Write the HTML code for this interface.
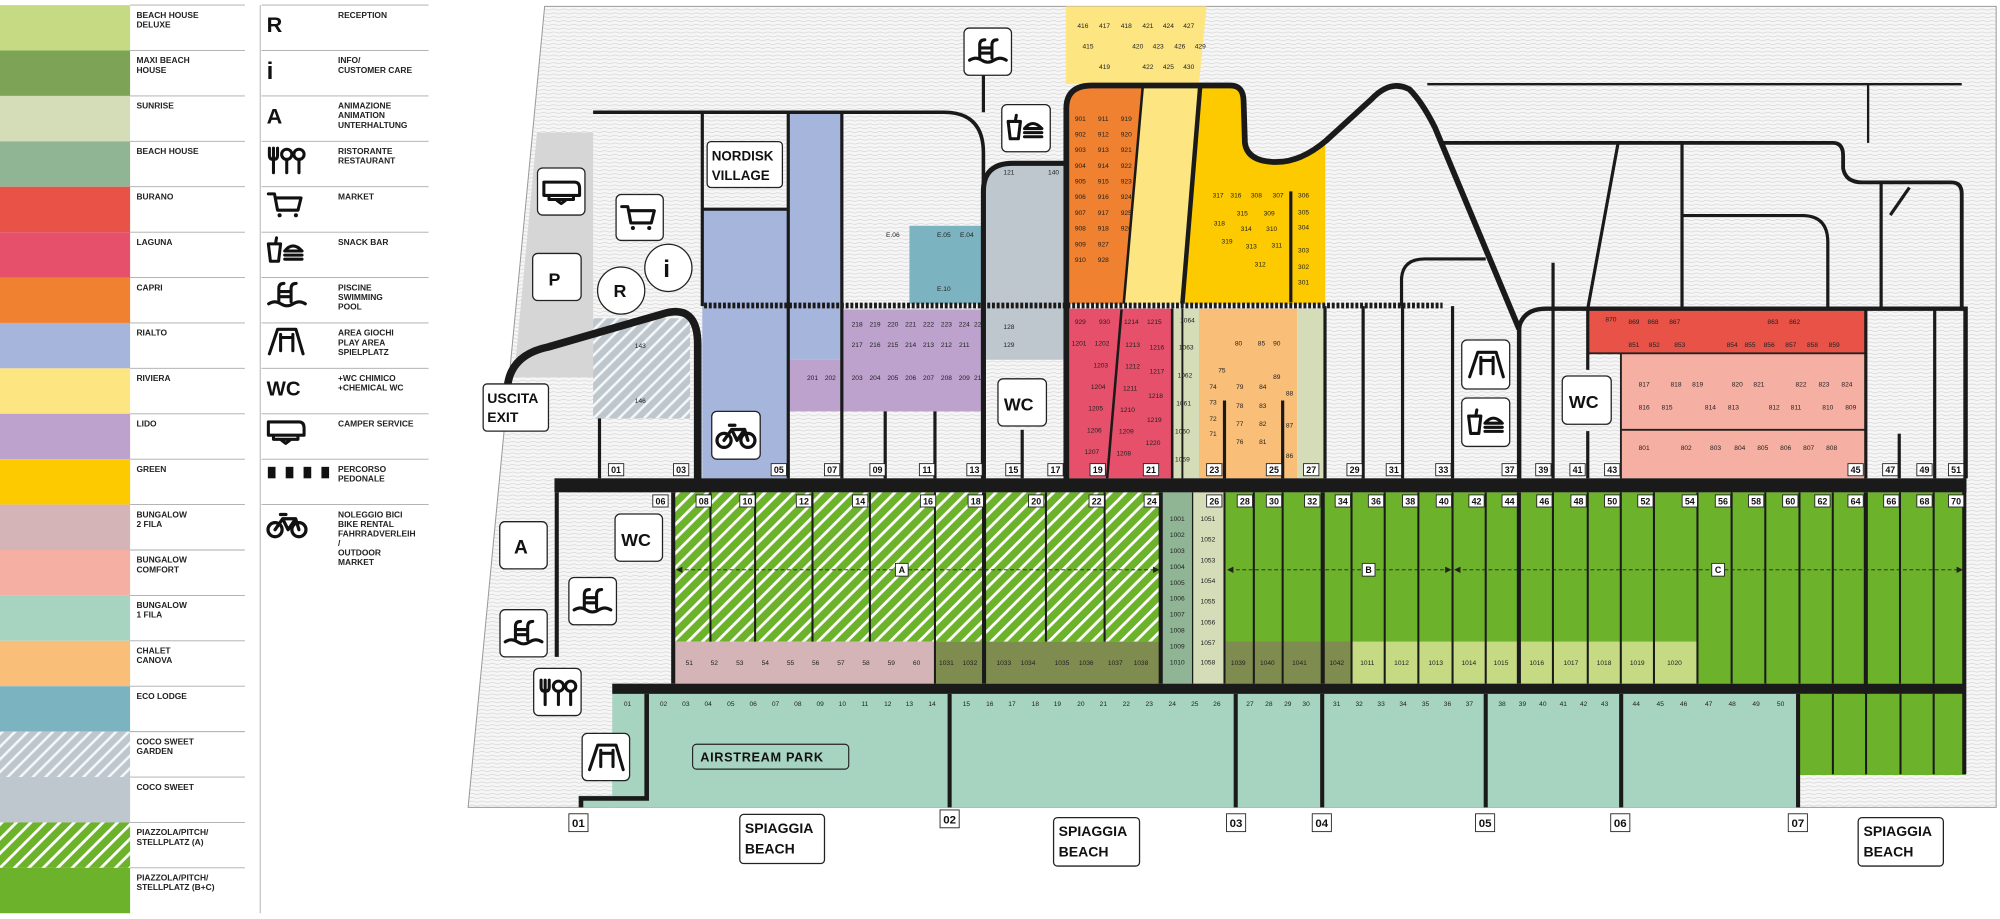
<!DOCTYPE html>
<html><head><meta charset="utf-8">
<style>
html,body{margin:0;padding:0;background:#fff;width:2000px;height:919px;overflow:hidden}
svg{display:block}
.lg{font:bold 6.6px "Liberation Sans",sans-serif;fill:#222}
.n rect{fill:#fff;stroke:#222;stroke-width:.7}
.n text{font:bold 7px "Liberation Sans",sans-serif;fill:#111;text-anchor:middle}
.s{font:5.2px "Liberation Sans",sans-serif;fill:#222;text-anchor:middle}
.box{fill:#fff;stroke:#222;stroke-width:1}
.ic{fill:none;stroke:#111;stroke-width:3;stroke-linecap:round;stroke-linejoin:round}
.big{font:bold 12px "Liberation Sans",sans-serif;fill:#111}
.rd{fill:none;stroke:#1a1a1a;stroke-linecap:butt}
</style></head><body>
<svg width="2000" height="919" viewBox="0 0 1568 720.5" preserveAspectRatio="none" xmlns="http://www.w3.org/2000/svg">
<defs>
<pattern id="wave" width="8" height="3" patternUnits="userSpaceOnUse"><rect width="8" height="3" fill="#f6f6f6"/><path d="M0,1.5 Q2,0.6 4,1.5 T8,1.5" fill="none" stroke="#cfcfcf" stroke-width=".45"/></pattern>
<pattern id="hg" width="8" height="8" patternUnits="userSpaceOnUse" patternTransform="rotate(45)"><rect width="8" height="8" fill="#6db22b"/><rect width="2.2" height="8" fill="#fff"/></pattern>
<pattern id="hc" width="7" height="7" patternUnits="userSpaceOnUse" patternTransform="rotate(45)"><rect width="7" height="7" fill="#bdc7cd"/><rect width="2" height="7" fill="#f4f6f7"/></pattern>
<symbol id="pool" viewBox="0 0 40 30"><path class="ic" d="M2,24 Q8,20 14,24 Q20,28 26,24 Q32,20 38,24 M12,22 V9 Q12,4 17,4 M24,22 V9 Q24,4 29,4 M12,12 H24 M12,17 H24"/></symbol>
<symbol id="snack" viewBox="0 0 40 30"><path class="ic" d="M3,9 H15 L13,26 H5 Z M10,9 L11,3 M19,16 Q27,6 36,16 Z M19,20 H36 M19,24 H36"/></symbol>
<symbol id="cart" viewBox="0 0 40 30"><path class="ic" d="M3,5 H9 L12,21 H32 L35,9 H10"/><circle cx="14" cy="26" r="2" fill="#111"/><circle cx="30" cy="26" r="2" fill="#111"/></symbol>
<symbol id="camp" viewBox="0 0 40 30"><path class="ic" d="M3,6 H33 Q38,6 38,12 V19 H3 Z M8,19 V23 H32 V19 M16,24 L20,27 L24,24"/></symbol>
<symbol id="play" viewBox="0 0 40 30"><path class="ic" d="M4,28 L12,4 H30 L37,28 M15,9 V25 M27,9 V25 M15,12 H27"/></symbol>
<symbol id="bike" viewBox="0 0 40 30"><circle class="ic" cx="9" cy="20" r="6.5"/><circle class="ic" cx="31" cy="20" r="6.5"/><path class="ic" d="M9,20 L16,10 H28 L31,20 M16,10 L21,20 L28,10 M14,6 H19"/></symbol>
<symbol id="rest" viewBox="0 0 40 30"><path class="ic" d="M4,4 V11 Q4,15 8,15 Q12,15 12,11 V4 M8,4 V28"/><circle class="ic" cx="21" cy="10" r="5"/><path class="ic" d="M21,15 V28"/><circle class="ic" cx="33" cy="10" r="5"/><path class="ic" d="M33,15 V28"/></symbol>
</defs>

<!-- LEGEND -->
<g>
<rect x="0" y="4" width="102" height="35.6" fill="#c6da84"/>
<rect x="0" y="39.6" width="102" height="35.6" fill="#7da456"/>
<rect x="0" y="75.2" width="102" height="35.6" fill="#d4dcb8"/>
<rect x="0" y="110.8" width="102" height="35.6" fill="#8fb595"/>
<rect x="0" y="146.4" width="102" height="35.6" fill="#e85247"/>
<rect x="0" y="182" width="102" height="35.6" fill="#e7506b"/>
<rect x="0" y="217.6" width="102" height="35.6" fill="#ef8130"/>
<rect x="0" y="253.2" width="102" height="35.6" fill="#a5b5dc"/>
<rect x="0" y="288.8" width="102" height="35.6" fill="#fde582"/>
<rect x="0" y="324.4" width="102" height="35.6" fill="#bca2cd"/>
<rect x="0" y="360" width="102" height="35.6" fill="#fdca00"/>
<rect x="0" y="395.6" width="102" height="35.6" fill="#d5b4b8"/>
<rect x="0" y="431.2" width="102" height="35.6" fill="#f6afa3"/>
<rect x="0" y="466.8" width="102" height="35.6" fill="#a7d4c0"/>
<rect x="0" y="502.4" width="102" height="35.6" fill="#f9bf79"/>
<rect x="0" y="538" width="102" height="35.6" fill="#7cb3c0"/>
<rect x="0" y="573.6" width="102" height="35.6" fill="url(#hc)"/>
<rect x="0" y="609.2" width="102" height="35.6" fill="#bdc7cd"/>
<rect x="0" y="644.8" width="102" height="35.6" fill="url(#hg)"/>
<rect x="0" y="680.4" width="102" height="35.6" fill="#6db22b"/>
<g stroke="#aaa" stroke-width=".7">
<line x1="102" y1="4" x2="192" y2="4"/><line x1="102" y1="39.6" x2="192" y2="39.6"/><line x1="102" y1="75.2" x2="192" y2="75.2"/><line x1="102" y1="110.8" x2="192" y2="110.8"/><line x1="102" y1="146.4" x2="192" y2="146.4"/><line x1="102" y1="182" x2="192" y2="182"/><line x1="102" y1="217.6" x2="192" y2="217.6"/><line x1="102" y1="253.2" x2="192" y2="253.2"/><line x1="102" y1="288.8" x2="192" y2="288.8"/><line x1="102" y1="324.4" x2="192" y2="324.4"/><line x1="102" y1="360" x2="192" y2="360"/><line x1="102" y1="395.6" x2="192" y2="395.6"/><line x1="102" y1="431.2" x2="192" y2="431.2"/><line x1="102" y1="466.8" x2="192" y2="466.8"/><line x1="102" y1="502.4" x2="192" y2="502.4"/><line x1="102" y1="538" x2="192" y2="538"/><line x1="102" y1="573.6" x2="192" y2="573.6"/><line x1="102" y1="609.2" x2="192" y2="609.2"/><line x1="102" y1="644.8" x2="192" y2="644.8"/><line x1="102" y1="680.4" x2="192" y2="680.4"/>
<line x1="204" y1="4" x2="204" y2="716"/>
<line x1="205" y1="4" x2="336" y2="4"/><line x1="205" y1="39.6" x2="336" y2="39.6"/><line x1="205" y1="75.2" x2="336" y2="75.2"/><line x1="205" y1="110.8" x2="336" y2="110.8"/><line x1="205" y1="146.4" x2="336" y2="146.4"/><line x1="205" y1="182" x2="336" y2="182"/><line x1="205" y1="217.6" x2="336" y2="217.6"/><line x1="205" y1="253.2" x2="336" y2="253.2"/><line x1="205" y1="288.8" x2="336" y2="288.8"/><line x1="205" y1="324.4" x2="336" y2="324.4"/><line x1="205" y1="360" x2="336" y2="360"/><line x1="205" y1="395.6" x2="336" y2="395.6"/>
</g>
<g class="lg">
<text x="107" y="14">BEACH HOUSE</text><text x="107" y="21.5">DELUXE</text>
<text x="107" y="49.6">MAXI BEACH</text><text x="107" y="57.1">HOUSE</text>
<text x="107" y="85.2">SUNRISE</text>
<text x="107" y="120.8">BEACH HOUSE</text>
<text x="107" y="156.4">BURANO</text>
<text x="107" y="192">LAGUNA</text>
<text x="107" y="227.6">CAPRI</text>
<text x="107" y="263.2">RIALTO</text>
<text x="107" y="298.8">RIVIERA</text>
<text x="107" y="334.4">LIDO</text>
<text x="107" y="370">GREEN</text>
<text x="107" y="405.6">BUNGALOW</text><text x="107" y="413.1">2 FILA</text>
<text x="107" y="441.2">BUNGALOW</text><text x="107" y="448.7">COMFORT</text>
<text x="107" y="476.8">BUNGALOW</text><text x="107" y="484.3">1 FILA</text>
<text x="107" y="512.4">CHALET</text><text x="107" y="519.9">CANOVA</text>
<text x="107" y="548">ECO LODGE</text>
<text x="107" y="583.6">COCO SWEET</text><text x="107" y="591.1">GARDEN</text>
<text x="107" y="619.2">COCO SWEET</text>
<text x="107" y="654.8">PIAZZOLA/PITCH/</text><text x="107" y="662.3">STELLPLATZ (A)</text>
<text x="107" y="690.4">PIAZZOLA/PITCH/</text><text x="107" y="697.9">STELLPLATZ (B+C)</text>
<text x="265" y="14">RECEPTION</text>
<text x="265" y="49.6">INFO/</text><text x="265" y="57.1">CUSTOMER CARE</text>
<text x="265" y="85.2">ANIMAZIONE</text><text x="265" y="92.7">ANIMATION</text><text x="265" y="100.2">UNTERHALTUNG</text>
<text x="265" y="120.8">RISTORANTE</text><text x="265" y="128.3">RESTAURANT</text>
<text x="265" y="156.4">MARKET</text>
<text x="265" y="192">SNACK BAR</text>
<text x="265" y="227.6">PISCINE</text><text x="265" y="235.1">SWIMMING</text><text x="265" y="242.6">POOL</text>
<text x="265" y="263.2">AREA GIOCHI</text><text x="265" y="270.7">PLAY AREA</text><text x="265" y="278.2">SPIELPLATZ</text>
<text x="265" y="298.8">+WC CHIMICO</text><text x="265" y="306.3">+CHEMICAL WC</text>
<text x="265" y="334.4">CAMPER SERVICE</text>
<text x="265" y="370">PERCORSO</text><text x="265" y="377.5">PEDONALE</text>
<text x="265" y="405.6">NOLEGGIO BICI</text><text x="265" y="413.1">BIKE RENTAL</text><text x="265" y="420.6">FAHRRADVERLEIH</text><text x="265" y="428.1">/</text><text x="265" y="435.6">OUTDOOR</text><text x="265" y="443.1">MARKET</text>
</g>
<text x="209" y="25" class="big" style="font-size:17px">R</text>
<text x="209" y="62" class="big" style="font-size:19px">i</text>
<text x="209" y="97" class="big" style="font-size:17px">A</text>
<use href="#rest" x="208" y="113" width="32" height="24"/>
<use href="#cart" x="208" y="148" width="32" height="24"/>
<use href="#snack" x="208" y="184" width="32" height="24"/>
<use href="#pool" x="208" y="219" width="34" height="24"/>
<use href="#play" x="208" y="255" width="32" height="24"/>
<text x="209" y="310" class="big" style="font-size:16px">WC</text>
<use href="#camp" x="208" y="326" width="32" height="24"/>
<g fill="#111"><rect x="210" y="366" width="6" height="9"/><rect x="224" y="366" width="6" height="9"/><rect x="238" y="366" width="6" height="9"/><rect x="252" y="366" width="6" height="9"/></g>
<use href="#bike" x="208" y="398" width="34" height="26"/>
</g>

<!-- MAP FRAME -->
<polygon points="427,5 1565,5 1565,633 367,633" fill="url(#wave)" stroke="#9a9a9a" stroke-width=".8"/>
<polygon points="421,104 465,104 465,296 403,296" fill="#d6d6d6"/>

<!-- FILLS upper -->
<polygon points="835.6,5 946,5 940,66 835.6,66" fill="#fde582"/>
<path d="M835.6,238 L835.6,85 Q836,67 856,67 L896,67 L881,238 Z" fill="#ef8130"/>
<polygon points="896,67 941,67 927,238 881,238" fill="#fde582"/>
<path d="M941,67 L965,67 Q975,67 975,80 L976,112 Q978,127 1001,127 Q1020,127 1039,108 L1039,238 L927,238 Z" fill="#fdca00"/>
<rect x="835.6" y="242" width="83.4" height="133" fill="#e7506b"/>
<rect x="919" y="242" width="21" height="133" fill="#d4dcb8"/>
<rect x="940" y="242" width="77" height="133" fill="#f9bf79"/>
<rect x="1017" y="242" width="22" height="133" fill="#d4dcb8"/>
<path d="M773,282 L773,150 Q773,129 794,129 L835.6,129 L835.6,282 Z" fill="#bdc7cd"/>
<rect x="713" y="177" width="58" height="61" fill="#7cb3c0"/>
<rect x="550.6" y="164" width="67.4" height="211" fill="#a5b5dc"/>
<rect x="618" y="87.8" width="42" height="194.2" fill="#a5b5dc"/>
<rect x="618" y="282" width="42" height="40.5" fill="#bca2cd"/>
<rect x="660" y="242.6" width="111" height="80" fill="#bca2cd"/>
<rect x="465" y="249.5" width="76" height="78.5" fill="url(#hc)"/>
<rect x="1244.8" y="242" width="218" height="35" fill="#e85247"/>
<rect x="1270.8" y="277" width="192" height="98" fill="#f6afa3"/>
<line x1="1270.8" y1="277" x2="1462.8" y2="277" stroke="#222" stroke-width="1.5"/>
<line x1="1270.8" y1="337" x2="1462.8" y2="337" stroke="#222" stroke-width="1.5"/>
<line x1="1244.8" y1="277" x2="1270.8" y2="277" stroke="#222" stroke-width="1.5"/>
<line x1="1270.8" y1="277" x2="1270.8" y2="375" stroke="#222" stroke-width="1.5"/>

<!-- FILLS plots -->
<rect x="528" y="386" width="382" height="117" fill="url(#hg)"/>
<rect x="528" y="503" width="205" height="33" fill="#d5b4b8"/>
<rect x="733" y="503" width="177" height="33" fill="#7f8c4f"/>
<rect x="910" y="386" width="25" height="150" fill="#8fb595"/>
<rect x="935" y="386" width="25" height="150" fill="#d4dcb8"/>
<rect x="960" y="386" width="581" height="150" fill="#6db22b"/>
<rect x="960" y="503" width="99.6" height="33" fill="#7f8c4f"/>
<rect x="1059.6" y="503" width="271.2" height="33" fill="#c6da84"/>
<rect x="480" y="544" width="930" height="89" fill="#a7d4c0"/>
<rect x="453.7" y="623.7" width="30" height="9.3" fill="#a7d4c0"/>
<rect x="1410" y="544" width="131" height="63.6" fill="#6db22b"/>

<!-- plot dividers -->
<g stroke="#1a1a1a" stroke-width="1.6">
<line x1="557" y1="386" x2="557" y2="503"/><line x1="592" y1="386" x2="592" y2="503"/><line x1="637" y1="386" x2="637" y2="503"/><line x1="682" y1="386" x2="682" y2="503"/><line x1="733" y1="386" x2="733" y2="536"/><line x1="820" y1="386" x2="820" y2="503"/><line x1="866" y1="386" x2="866" y2="503"/>
<line x1="983" y1="386" x2="983" y2="536"/><line x1="1005.6" y1="386" x2="1005.6" y2="536"/><line x1="1059.6" y1="386" x2="1059.6" y2="536"/><line x1="1085.6" y1="386" x2="1085.6" y2="536"/><line x1="1112" y1="386" x2="1112" y2="536"/><line x1="1138.8" y1="386" x2="1138.8" y2="536"/><line x1="1164.8" y1="386" x2="1164.8" y2="536"/><line x1="1217.5" y1="386" x2="1217.5" y2="536"/><line x1="1244.8" y1="386" x2="1244.8" y2="536"/><line x1="1270.7" y1="386" x2="1270.7" y2="536"/><line x1="1296.7" y1="386" x2="1296.7" y2="536"/><line x1="1330.8" y1="386" x2="1330.8" y2="536"/><line x1="1357.6" y1="386" x2="1357.6" y2="536"/><line x1="1384" y1="386" x2="1384" y2="536"/><line x1="1410.8" y1="386" x2="1410.8" y2="536"/><line x1="1436.9" y1="386" x2="1436.9" y2="536"/><line x1="1489.6" y1="386" x2="1489.6" y2="536"/><line x1="1516" y1="386" x2="1516" y2="536"/>
<line x1="1437" y1="544" x2="1437" y2="607"/><line x1="1463" y1="544" x2="1463" y2="607"/><line x1="1490" y1="544" x2="1490" y2="607"/><line x1="1516" y1="544" x2="1516" y2="607"/>
<line x1="935" y1="386" x2="935" y2="536" stroke-width="1"/><line x1="960" y1="386" x2="960" y2="536"/>
</g>
<g stroke="#1a1a1a" stroke-width="3.2">
<line x1="771.5" y1="386" x2="771.5" y2="536"/><line x1="910" y1="386" x2="910" y2="536"/><line x1="1037" y1="386" x2="1037" y2="536"/><line x1="1190.8" y1="386" x2="1190.8" y2="536"/><line x1="1462.8" y1="386" x2="1462.8" y2="544"/><line x1="1540" y1="375" x2="1540" y2="607"/>
<line x1="744.5" y1="544" x2="744.5" y2="633"/><line x1="968.8" y1="544" x2="968.8" y2="633"/><line x1="1036.6" y1="544" x2="1036.6" y2="633"/><line x1="1164.8" y1="544" x2="1164.8" y2="633"/><line x1="1271" y1="544" x2="1271" y2="633"/><line x1="1409.7" y1="544" x2="1409.7" y2="633"/>
<line x1="527.8" y1="386" x2="527.8" y2="536"/>
<line x1="436.5" y1="386" x2="436.5" y2="515"/>
</g>
<path class="rd" d="M507,544 L507,626 L455.5,626 L455.5,633" stroke-width="3.6"/>
<rect x="434.7" y="375" width="1107" height="11" fill="#1a1a1a"/>
<rect x="480" y="536" width="1061" height="8" fill="#1a1a1a"/>
<!-- dashed arrows -->
<g stroke="#222" stroke-width=".7" stroke-dasharray="3 2"><line x1="532" y1="446.7" x2="906" y2="446.7"/><line x1="964" y1="446.7" x2="1136" y2="446.7"/><line x1="1142" y1="446.7" x2="1537" y2="446.7"/></g>
<g fill="#222"><path d="M530,446.7 l5,-2.5 v5z"/><path d="M909,446.7 l-5,-2.5 v5z"/><path d="M962,446.7 l5,-2.5 v5z"/><path d="M1138,446.7 l-5,-2.5 v5z"/><path d="M1140,446.7 l5,-2.5 v5z"/><path d="M1539,446.7 l-5,-2.5 v5z"/></g>
<g class="n"><rect x="702" y="441.7" width="10" height="10"/><text x="707" y="449.3">A</text><rect x="1068" y="441.7" width="10" height="10"/><text x="1073" y="449.3">B</text><rect x="1342" y="441.7" width="10" height="10"/><text x="1347" y="449.3">C</text></g>

<!-- ROADS upper -->
<path class="rd" d="M398,302 Q401,278 430,272 L520,246 Q547,238 547,270 L547,378" stroke-width="6"/>
<path class="rd" d="M465,88 L740,88 Q771,88 771,120 L771,375" stroke-width="2.8"/>
<path class="rd" d="M771,375 L771,150 Q771,128 794,128 L836,128" stroke-width="4"/>
<path class="rd" d="M836,378 L836,85 Q836,67 856,67 L941,67 L965,67 Q975,67 975,80 L976,112 Q978,127 1001,127 Q1020,127 1040,110 L1075,78 Q1090,62 1105,70 Q1115,80 1125,100 L1191,258" stroke-width="4.5"/>
<path class="rd" d="M1191,375 L1191,256 Q1195,242 1212,242 L1541,242 L1541,375" stroke-width="3.5"/>
<path class="rd" d="M1131,112 L1437,112 Q1445,112 1445,122 L1445,132 Q1447,143 1460,143 L1530,143 Q1538,143 1538,152 L1538,242" stroke-width="3"/>
<g class="rd" stroke-width="2.5">
<path d="M1268.6,112 L1244.8,242 L1244.8,290"/><path d="M1244.8,338 L1244.8,375"/>
<path d="M1318.7,112 L1318.7,242"/><path d="M1318.7,169 L1413,169 Q1433,169 1433,190 L1433,242"/>
<path d="M1474.8,143 L1474.8,242"/><path d="M1482,168.6 L1497,147"/>
<path d="M1098.8,240 L1098.8,218 Q1100,203 1117,203 L1164.8,203"/>
<path d="M1217.6,206 L1217.6,375"/><path d="M1138.8,240 L1138.8,375"/><path d="M1068.7,240 L1068.7,375"/><path d="M1099.6,240 L1099.6,375"/>
<path d="M1012,150 L1012,237"/><path d="M1038.8,240 L1038.8,375"/><path d="M960,314 L960,375"/><path d="M1005.6,314 L1005.6,375"/>
<path d="M1462.8,242 L1462.8,375"/><path d="M1489,340 L1489,375"/><path d="M1516.8,242 L1516.8,375"/>
<path d="M470,328 L470,375"/><path d="M694,322.5 L694,375"/><path d="M733,322.5 L733,375"/><path d="M660,87.8 L660,375"/><path d="M618,87.8 L618,375"/><path d="M801.4,337 L801.4,375"/><path d="M771,22 L771,88"/>
<path d="M550.6,87.8 L550.6,240"/><path d="M550.6,164 L618,164"/><path d="M927,242 L927,375" stroke-width="1.5"/>
<path d="M919,242 L919,375" stroke-width="2"/><path d="M879.3,242.6 L868,375" stroke-width="2"/>
<path d="M896,67 L881,238" stroke-width="2"/><path d="M941,67 L927,238" stroke-width="3.5"/>
</g>
<path class="rd" d="M1119,66 L1538,66 M1464.6,66 L1464.6,112" stroke-width="1.8"/>
<line x1="552" y1="239.5" x2="1131" y2="239.5" stroke="#1a1a1a" stroke-width="4.5" stroke-dasharray="2.3 1.4"/>

<!-- ICON BOXES -->
<g>
<rect class="box" x="421.4" y="131.7" width="37.2" height="36.9" rx="4"/><use href="#camp" x="424" y="138" width="32" height="24"/>
<rect class="box" x="417.6" y="198.7" width="38" height="36.9" rx="4"/><text x="430" y="224" class="big" style="font-size:14px">P</text>
<rect class="box" x="483" y="152.5" width="37" height="36" rx="4"/><use href="#cart" x="485" y="158" width="32" height="24"/>
<circle class="box" cx="487" cy="227.8" r="18.5"/><text x="481" y="233" class="big" style="font-size:14px">R</text>
<circle class="box" cx="524" cy="210" r="18.5"/><text x="520" y="217" class="big" style="font-size:19px">i</text>
<rect class="box" x="378.8" y="301" width="51.2" height="37" rx="3"/><text x="382" y="316" class="big" style="font-size:11px">USCITA</text><text x="382" y="331" class="big" style="font-size:11px">EXIT</text>
<rect class="box" x="391.8" y="409" width="37.2" height="37" rx="4"/><text x="403" y="434" class="big" style="font-size:15px">A</text>
<rect class="box" x="392" y="478" width="37" height="37" rx="4"/><use href="#pool" x="394" y="484" width="33" height="24"/>
<rect class="box" x="418.4" y="524" width="37.2" height="37" rx="4"/><use href="#rest" x="421" y="530" width="32" height="24"/>
<rect class="box" x="456.4" y="575" width="37.2" height="37" rx="4"/><use href="#play" x="459" y="581" width="32" height="24"/>
<rect class="box" x="482.2" y="403" width="37.2" height="37" rx="4"/><text x="487" y="428" class="big" style="font-size:14px">WC</text>
<rect class="box" x="446" y="452.8" width="37.3" height="37" rx="4"/><use href="#pool" x="448" y="459" width="33" height="24"/>
<rect class="box" x="554.4" y="111" width="59" height="36" rx="3"/><text x="558" y="126" class="big" style="font-size:10.5px">NORDISK</text><text x="558" y="141" class="big" style="font-size:10.5px">VILLAGE</text>
<rect class="box" x="558" y="322.5" width="38" height="37.5" rx="4"/><use href="#bike" x="560" y="328" width="34" height="26"/>
<rect class="box" x="755.8" y="22" width="37.2" height="37" rx="4"/><use href="#pool" x="758" y="28" width="33" height="24"/>
<rect class="box" x="785.4" y="82" width="38" height="37" rx="4"/><use href="#snack" x="788" y="88" width="32" height="24"/>
<rect class="box" x="782.4" y="297" width="38" height="37" rx="4"/><text x="787" y="322" class="big" style="font-size:14px">WC</text>
<rect class="box" x="1146" y="266.6" width="37.6" height="38.4" rx="4"/><use href="#play" x="1149" y="273" width="32" height="24"/>
<rect class="box" x="1146" y="312" width="37.6" height="38" rx="4"/><use href="#snack" x="1149" y="319" width="32" height="24"/>
<rect class="box" x="1224.8" y="294.8" width="38.4" height="37.8" rx="4"/><text x="1230" y="320" class="big" style="font-size:14px">WC</text>
<rect x="543" y="583.5" width="122.4" height="19.5" rx="3" fill="none" stroke="#222" stroke-width=".9"/><text x="549" y="597" class="big" style="font-size:10px;letter-spacing:.5px">AIRSTREAM PARK</text>
<rect class="box" x="580" y="638.5" width="66.4" height="38.5" rx="3"/><text x="584" y="653" class="big" style="font-size:11px">SPIAGGIA</text><text x="584" y="669" class="big" style="font-size:11px">BEACH</text>
<rect class="box" x="826" y="641" width="67.4" height="38" rx="3"/><text x="830" y="655.5" class="big" style="font-size:11px">SPIAGGIA</text><text x="830" y="671.5" class="big" style="font-size:11px">BEACH</text>
<rect class="box" x="1456.8" y="641" width="66.8" height="38" rx="3"/><text x="1461" y="655.5" class="big" style="font-size:11px">SPIAGGIA</text><text x="1461" y="671.5" class="big" style="font-size:11px">BEACH</text>
</g>

<!-- beach numbers -->
<g class="n">
<rect x="446" y="638" width="15" height="14"/><text x="453.5" y="648.5" style="font-size:9px">01</text>
<rect x="737" y="635" width="15" height="14"/><text x="744.5" y="645.5" style="font-size:9px">02</text>
<rect x="961.6" y="638" width="15" height="14"/><text x="969" y="648.5" style="font-size:9px">03</text>
<rect x="1028.8" y="638" width="15" height="14"/><text x="1036.3" y="648.5" style="font-size:9px">04</text>
<rect x="1156.8" y="638" width="15" height="14"/><text x="1164.3" y="648.5" style="font-size:9px">05</text>
<rect x="1262.8" y="638" width="15" height="14"/><text x="1270.3" y="648.5" style="font-size:9px">06</text>
<rect x="1402" y="638" width="15" height="14"/><text x="1409.5" y="648.5" style="font-size:9px">07</text>
</g>

<!-- upper row labels -->
<g class="n">
<rect x="477" y="363.5" width="12" height="9.5"/><text x="483" y="371">01</text>
<rect x="528" y="363.5" width="12" height="9.5"/><text x="534" y="371">03</text>
<rect x="604.6" y="363.5" width="12" height="9.5"/><text x="610.6" y="371">05</text>
<rect x="646.4" y="363.5" width="12" height="9.5"/><text x="652.4" y="371">07</text>
<rect x="682" y="363.5" width="12" height="9.5"/><text x="688" y="371">09</text>
<rect x="720.8" y="363.5" width="12" height="9.5"/><text x="726.8" y="371">11</text>
<rect x="758" y="363.5" width="12" height="9.5"/><text x="764" y="371">13</text>
<rect x="788.5" y="363.5" width="12" height="9.5"/><text x="794.5" y="371">15</text>
<rect x="821.5" y="363.5" width="12" height="9.5"/><text x="827.5" y="371">17</text>
<rect x="854.6" y="363.5" width="12" height="9.5"/><text x="860.6" y="371">19</text>
<rect x="896.4" y="363.5" width="12" height="9.5"/><text x="902.4" y="371">21</text>
<rect x="946" y="363.5" width="12" height="9.5"/><text x="952" y="371">23</text>
<rect x="992.8" y="363.5" width="12" height="9.5"/><text x="998.8" y="371">25</text>
<rect x="1022" y="363.5" width="12" height="9.5"/><text x="1028" y="371">27</text>
<rect x="1056" y="363.5" width="12" height="9.5"/><text x="1062" y="371">29</text>
<rect x="1086.8" y="363.5" width="12" height="9.5"/><text x="1092.8" y="371">31</text>
<rect x="1125.6" y="363.5" width="12" height="9.5"/><text x="1131.6" y="371">33</text>
<rect x="1177.6" y="363.5" width="12" height="9.5"/><text x="1183.6" y="371">37</text>
<rect x="1204" y="363.5" width="12" height="9.5"/><text x="1210" y="371">39</text>
<rect x="1230.8" y="363.5" width="12" height="9.5"/><text x="1236.8" y="371">41</text>
<rect x="1258" y="363.5" width="12" height="9.5"/><text x="1264" y="371">43</text>
<rect x="1448.8" y="363.5" width="12" height="9.5"/><text x="1454.8" y="371">45</text>
<rect x="1476" y="363.5" width="12" height="9.5"/><text x="1482" y="371">47</text>
<rect x="1502.8" y="363.5" width="12" height="9.5"/><text x="1508.8" y="371">49</text>
<rect x="1527.6" y="363.5" width="12" height="9.5"/><text x="1533.6" y="371">51</text>
</g>
<!-- plot labels -->
<g class="n">
<rect x="511.8" y="388" width="12" height="9.5"/><text x="517.8" y="395.5">06</text>
<rect x="545.7" y="388" width="12" height="9.5"/><text x="551.7" y="395.5">08</text>
<rect x="580" y="388" width="12" height="9.5"/><text x="586" y="395.5">10</text>
<rect x="624.3" y="388" width="12" height="9.5"/><text x="630.3" y="395.5">12</text>
<rect x="668.4" y="388" width="12" height="9.5"/><text x="674.4" y="395.5">14</text>
<rect x="721.6" y="388" width="12" height="9.5"/><text x="727.6" y="395.5">16</text>
<rect x="759" y="388" width="12" height="9.5"/><text x="765" y="395.5">18</text>
<rect x="806.4" y="388" width="12" height="9.5"/><text x="812.4" y="395.5">20</text>
<rect x="853.8" y="388" width="12" height="9.5"/><text x="859.8" y="395.5">22</text>
<rect x="897" y="388" width="12" height="9.5"/><text x="903" y="395.5">24</text>
<rect x="946" y="388" width="12" height="9.5"/><text x="952" y="395.5">26</text>
<rect x="970" y="388" width="12" height="9.5"/><text x="976" y="395.5">28</text>
<rect x="992.8" y="388" width="12" height="9.5"/><text x="998.8" y="395.5">30</text>
<rect x="1022.8" y="388" width="12" height="9.5"/><text x="1028.8" y="395.5">32</text>
<rect x="1046.8" y="388" width="12" height="9.5"/><text x="1052.8" y="395.5">34</text>
<rect x="1072.8" y="388" width="12" height="9.5"/><text x="1078.8" y="395.5">36</text>
<rect x="1099.6" y="388" width="12" height="9.5"/><text x="1105.6" y="395.5">38</text>
<rect x="1126" y="388" width="12" height="9.5"/><text x="1132" y="395.5">40</text>
<rect x="1151.6" y="388" width="12" height="9.5"/><text x="1157.6" y="395.5">42</text>
<rect x="1177.6" y="388" width="12" height="9.5"/><text x="1183.6" y="395.5">44</text>
<rect x="1204.8" y="388" width="12" height="9.5"/><text x="1210.8" y="395.5">46</text>
<rect x="1231.6" y="388" width="12" height="9.5"/><text x="1237.6" y="395.5">48</text>
<rect x="1258" y="388" width="12" height="9.5"/><text x="1264" y="395.5">50</text>
<rect x="1284" y="388" width="12" height="9.5"/><text x="1290" y="395.5">52</text>
<rect x="1318.8" y="388" width="12" height="9.5"/><text x="1324.8" y="395.5">54</text>
<rect x="1344.8" y="388" width="12" height="9.5"/><text x="1350.8" y="395.5">56</text>
<rect x="1370.8" y="388" width="12" height="9.5"/><text x="1376.8" y="395.5">58</text>
<rect x="1397.6" y="388" width="12" height="9.5"/><text x="1403.6" y="395.5">60</text>
<rect x="1422.8" y="388" width="12" height="9.5"/><text x="1428.8" y="395.5">62</text>
<rect x="1448.8" y="388" width="12" height="9.5"/><text x="1454.8" y="395.5">64</text>
<rect x="1476.8" y="388" width="12" height="9.5"/><text x="1482.8" y="395.5">66</text>
<rect x="1502.8" y="388" width="12" height="9.5"/><text x="1508.8" y="395.5">68</text>
<rect x="1527.6" y="388" width="12" height="9.5"/><text x="1533.6" y="395.5">70</text>
</g>

<!-- small numbers -->
<g class="s">
<text x="540.4" y="521.5">51</text><text x="560" y="521.5">52</text><text x="580" y="521.5">53</text><text x="600" y="521.5">54</text><text x="619.8" y="521.5">55</text><text x="639.5" y="521.5">56</text><text x="659.3" y="521.5">57</text><text x="679" y="521.5">58</text><text x="698.8" y="521.5">59</text><text x="718.6" y="521.5">60</text>
<text x="742" y="521.5">1031</text><text x="760.4" y="521.5">1032</text><text x="787" y="521.5">1033</text><text x="806" y="521.5">1034</text><text x="832.6" y="521.5">1035</text><text x="851.6" y="521.5">1036</text><text x="874.4" y="521.5">1037</text><text x="894.5" y="521.5">1038</text>
<text x="970.8" y="521.5">1039</text><text x="993.6" y="521.5">1040</text><text x="1018.8" y="521.5">1041</text><text x="1048" y="521.5">1042</text><text x="1072" y="521.5">1011</text><text x="1098.8" y="521.5">1012</text><text x="1125.6" y="521.5">1013</text><text x="1151.6" y="521.5">1014</text><text x="1176.8" y="521.5">1015</text><text x="1204.8" y="521.5">1016</text><text x="1231.6" y="521.5">1017</text><text x="1257.6" y="521.5">1018</text><text x="1283.6" y="521.5">1019</text><text x="1312.8" y="521.5">1020</text>
<text x="492" y="553.5">01</text><text x="520.2" y="553.5">02</text><text x="537.7" y="553.5">03</text><text x="555.2" y="553.5">04</text><text x="573" y="553.5">05</text><text x="590.5" y="553.5">06</text><text x="608" y="553.5">07</text><text x="625.5" y="553.5">08</text><text x="643" y="553.5">09</text><text x="660.4" y="553.5">10</text><text x="678" y="553.5">11</text><text x="696" y="553.5">12</text><text x="713" y="553.5">13</text><text x="730.7" y="553.5">14</text>
<text x="757.7" y="553.5">15</text><text x="776" y="553.5">16</text><text x="793.4" y="553.5">17</text><text x="811.7" y="553.5">18</text><text x="829" y="553.5">19</text><text x="847.4" y="553.5">20</text><text x="865" y="553.5">21</text><text x="883" y="553.5">22</text><text x="901" y="553.5">23</text><text x="919" y="553.5">24</text><text x="936.7" y="553.5">25</text><text x="954" y="553.5">26</text>
<text x="980" y="553.5">27</text><text x="994.8" y="553.5">28</text><text x="1009.6" y="553.5">29</text><text x="1024" y="553.5">30</text><text x="1048" y="553.5">31</text><text x="1065.6" y="553.5">32</text><text x="1082.8" y="553.5">33</text><text x="1100" y="553.5">34</text><text x="1117.6" y="553.5">35</text><text x="1134.8" y="553.5">36</text><text x="1152" y="553.5">37</text>
<text x="1177.6" y="553.5">38</text><text x="1193.6" y="553.5">39</text><text x="1209.6" y="553.5">40</text><text x="1225.6" y="553.5">41</text><text x="1241.6" y="553.5">42</text><text x="1258" y="553.5">43</text><text x="1282.8" y="553.5">44</text><text x="1301.6" y="553.5">45</text><text x="1320" y="553.5">46</text><text x="1339.6" y="553.5">47</text><text x="1358" y="553.5">48</text><text x="1376.8" y="553.5">49</text><text x="1396" y="553.5">50</text>
<text x="923" y="408.5">1001</text><text x="923" y="421">1002</text><text x="923" y="433.5">1003</text><text x="923" y="446">1004</text><text x="923" y="458.5">1005</text><text x="923" y="471">1006</text><text x="923" y="483.5">1007</text><text x="923" y="496">1008</text><text x="923" y="508.5">1009</text><text x="923" y="521">1010</text>
<text x="947" y="408.5">1051</text><text x="947" y="424.7">1052</text><text x="947" y="440.9">1053</text><text x="947" y="457">1054</text><text x="947" y="473.3">1055</text><text x="947" y="489.5">1056</text><text x="947" y="505.7">1057</text><text x="947" y="521">1058</text>
<text x="847" y="94.7">901</text><text x="847" y="107">902</text><text x="847" y="119.3">903</text><text x="847" y="131.6">904</text><text x="847" y="143.9">905</text><text x="847" y="156.2">906</text><text x="847" y="168.5">907</text><text x="847" y="180.8">908</text><text x="847" y="193.1">909</text><text x="847" y="205.4">910</text>
<text x="865" y="94.7">911</text><text x="865" y="107">912</text><text x="865" y="119.3">913</text><text x="865" y="131.6">914</text><text x="865" y="143.9">915</text><text x="865" y="156.2">916</text><text x="865" y="168.5">917</text><text x="865" y="180.8">918</text><text x="865" y="193.1">927</text><text x="865" y="205.4">928</text>
<text x="883" y="94.7">919</text><text x="883" y="107">920</text><text x="883" y="119.3">921</text><text x="883" y="131.6">922</text><text x="883" y="143.9">923</text><text x="883" y="156.2">924</text><text x="883" y="168.5">925</text><text x="883" y="180.8">926</text>
<text x="847" y="254">929</text><text x="866" y="254">930</text><text x="887" y="254">1214</text><text x="905" y="254">1215</text>
<text x="846" y="271">1201</text><text x="864" y="271">1202</text><text x="888" y="272">1213</text><text x="907" y="274">1216</text>
<text x="863" y="288">1203</text><text x="888" y="289">1212</text><text x="907" y="293">1217</text>
<text x="861" y="305">1204</text><text x="886" y="306">1211</text><text x="906" y="312">1218</text>
<text x="859" y="322">1205</text><text x="884" y="323">1210</text><text x="905" y="331">1219</text>
<text x="858" y="339">1206</text><text x="883" y="340">1209</text><text x="904" y="349">1220</text>
<text x="856" y="356">1207</text><text x="881" y="357">1208</text>
<text x="931" y="253">1064</text><text x="930" y="274">1063</text><text x="929" y="296">1062</text><text x="928" y="318">1061</text><text x="927" y="340">1060</text><text x="927" y="362">1059</text>
<text x="971" y="271">80</text><text x="989" y="271">85</text><text x="1001" y="271">90</text><text x="958" y="292">75</text><text x="1001" y="297">89</text>
<text x="951" y="305">74</text><text x="972" y="305">79</text><text x="990" y="305">84</text><text x="1011" y="310">88</text>
<text x="951" y="317">73</text><text x="972" y="320">78</text><text x="990" y="320">83</text><text x="951" y="330">72</text><text x="972" y="334">77</text><text x="990" y="334">82</text><text x="1011" y="335">87</text>
<text x="951" y="342">71</text><text x="972" y="348">76</text><text x="990" y="348">81</text><text x="1011" y="359">86</text>
<text x="955" y="155">317</text><text x="969" y="155">316</text><text x="985" y="155">308</text><text x="1002" y="155">307</text><text x="1022" y="155">306</text>
<text x="974" y="169">315</text><text x="995" y="169">309</text><text x="1022" y="168">305</text><text x="956" y="177">318</text><text x="977" y="181">314</text><text x="997" y="181">310</text><text x="1022" y="180">304</text>
<text x="962" y="191">319</text><text x="981" y="195">313</text><text x="1001" y="194">311</text><text x="1022" y="198">303</text><text x="988" y="209">312</text><text x="1022" y="211">302</text><text x="1022" y="223">301</text>
<text x="1289" y="303">817</text><text x="1314" y="303">818</text><text x="1331" y="303">819</text><text x="1362" y="303">820</text><text x="1379" y="303">821</text><text x="1412" y="303">822</text><text x="1430" y="303">823</text><text x="1448" y="303">824</text>
<text x="1289" y="321">816</text><text x="1307" y="321">815</text><text x="1341" y="321">814</text><text x="1359" y="321">813</text><text x="1391" y="321">812</text><text x="1408" y="321">811</text><text x="1433" y="321">810</text><text x="1451" y="321">809</text>
<text x="1289" y="353">801</text><text x="1322" y="353">802</text><text x="1345" y="353">803</text><text x="1364" y="353">804</text><text x="1382" y="353">805</text><text x="1400" y="353">806</text><text x="1418" y="353">807</text><text x="1436" y="353">808</text>
<text x="1263" y="252">870</text><text x="1281" y="254">869</text><text x="1296" y="254">868</text><text x="1313" y="254">867</text><text x="1390" y="254">863</text><text x="1407" y="254">862</text>
<text x="1281" y="272">851</text><text x="1297" y="272">852</text><text x="1317" y="272">853</text><text x="1358" y="272">854</text><text x="1372" y="272">855</text><text x="1387" y="272">856</text><text x="1404" y="272">857</text><text x="1421" y="272">858</text><text x="1438" y="272">859</text>
<text x="849" y="22">416</text><text x="866" y="22">417</text><text x="883" y="22">418</text><text x="900" y="22">421</text><text x="916" y="22">424</text><text x="932" y="22">427</text>
<text x="853" y="38">415</text><text x="892" y="38">420</text><text x="908" y="38">423</text><text x="925" y="38">426</text><text x="941" y="38">429</text>
<text x="866" y="54">419</text><text x="900" y="54">422</text><text x="916" y="54">425</text><text x="932" y="54">430</text>
<text x="700" y="186">E.06</text><text x="740" y="186">E.05</text><text x="758" y="186">E.04</text><text x="740" y="228">E.10</text>
<text x="791" y="137">121</text><text x="826" y="137">140</text><text x="791" y="258">128</text><text x="791" y="272">129</text>
<text x="637" y="298">201</text><text x="651" y="298">202</text><text x="672" y="298">203</text><text x="686" y="298">204</text><text x="700" y="298">205</text><text x="714" y="298">206</text><text x="728" y="298">207</text><text x="742" y="298">208</text><text x="756" y="298">209</text><text x="768" y="298">210</text>
<text x="672" y="256">218</text><text x="686" y="256">219</text><text x="700" y="256">220</text><text x="714" y="256">221</text><text x="728" y="256">222</text><text x="742" y="256">223</text><text x="756" y="256">224</text><text x="768" y="256">225</text>
<text x="672" y="272">217</text><text x="686" y="272">216</text><text x="700" y="272">215</text><text x="714" y="272">214</text><text x="728" y="272">213</text><text x="742" y="272">212</text><text x="756" y="272">211</text>
<text x="502" y="273">143</text><text x="502" y="316">146</text>
</g>
</svg>
</body></html>
